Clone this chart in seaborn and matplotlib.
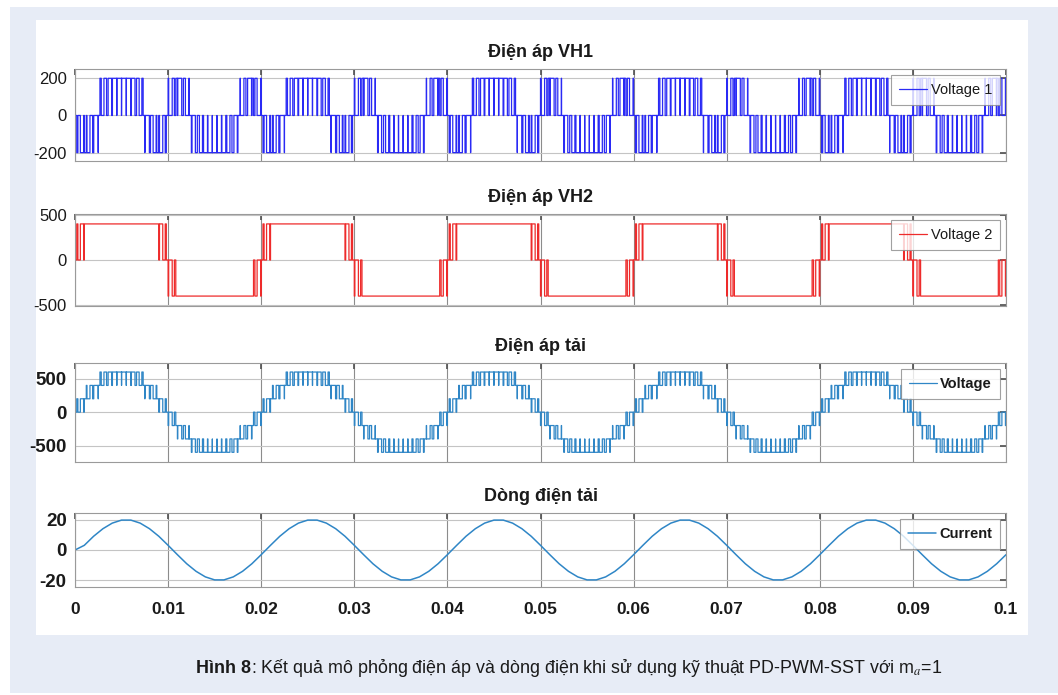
import matplotlib.pyplot as plt
import matplotlib.patches as patches
import pandas as pd
import seaborn as sns

# One 20 ms period of the PWM signals, 2 kHz carrier -> 40 slots of 0.5 ms
slot_width = 0.0005
period_starts = [0.0, 0.02, 0.04, 0.06, 0.08]
duty = [0.24, 0.70, 0.15, 0.57, 0.95, 0.28, 0.56, 0.77, 0.92, 0.99,
        0.99, 0.92, 0.77, 0.56, 0.28, 0.95, 0.57, 0.15, 0.70, 0.24,
        0.76, 0.30, 0.85, 0.43, 0.05, 0.72, 0.44, 0.23, 0.08, 0.01,
        0.01, 0.08, 0.23, 0.44, 0.72, 0.05, 0.43, 0.85, 0.30, 0.76]

vh1_off = [0, 0, -200, -200, -200, 0, 0, 0, 0, 0,
           0, 0, 0, 0, 0, -200, -200, -200, 0, 0,
           200, 200, 0, 0, 0, -200, -200, -200, -200, -200,
           -200, -200, -200, -200, -200, 0, 0, 0, 200, 200]
vh1_on = [-200, -200, 0, 0, 0, 200, 200, 200, 200, 200,
          200, 200, 200, 200, 200, 0, 0, 0, -200, -200,
          0, 0, 200, 200, 200, 0, 0, 0, 0, 0,
          0, 0, 0, 0, 0, 200, 200, 200, 0, 0]

vh2_off = [0, 0, 400, 400, 400, 400, 400, 400, 400, 400,
           400, 400, 400, 400, 400, 400, 400, 400, 0, 0,
           -400, -400, -400, -400, -400, -400, -400, -400, -400, -400,
           -400, -400, -400, -400, -400, -400, -400, -400, -400, -400]
vh2_on = [400, 400, 400, 400, 400, 400, 400, 400, 400, 400,
          400, 400, 400, 400, 400, 400, 400, 400, 400, 400,
          0, 0, -400, -400, -400, -400, -400, -400, -400, -400,
          -400, -400, -400, -400, -400, -400, -400, -400, 0, 0]

load_off = [0, 0, 200, 200, 200, 400, 400, 400, 400, 400,
            400, 400, 400, 400, 400, 200, 200, 200, 0, 0,
            -200, -200, -400, -400, -400, -600, -600, -600, -600, -600,
            -600, -600, -600, -600, -600, -400, -400, -400, -200, -200]
load_on = [200, 200, 400, 400, 400, 600, 600, 600, 600, 600,
           600, 600, 600, 600, 600, 400, 400, 400, 200, 200,
           0, 0, -200, -200, -200, -400, -400, -400, -400, -400,
           -400, -400, -400, -400, -400, -200, -200, -200, 0, 0]

# Load current sampled every 1 ms
current_t = [i / 1000 for i in range(101)]
current = [0.0,
           3.1, 9.1, 14.1, 17.8, 19.8, 19.8, 17.8, 14.1, 9.1, 3.1,
           -3.1, -9.1, -14.1, -17.8, -19.8, -19.8, -17.8, -14.1, -9.1, -3.1,
           3.1, 9.1, 14.1, 17.8, 19.8, 19.8, 17.8, 14.1, 9.1, 3.1,
           -3.1, -9.1, -14.1, -17.8, -19.8, -19.8, -17.8, -14.1, -9.1, -3.1,
           3.1, 9.1, 14.1, 17.8, 19.8, 19.8, 17.8, 14.1, 9.1, 3.1,
           -3.1, -9.1, -14.1, -17.8, -19.8, -19.8, -17.8, -14.1, -9.1, -3.1,
           3.1, 9.1, 14.1, 17.8, 19.8, 19.8, 17.8, 14.1, 9.1, 3.1,
           -3.1, -9.1, -14.1, -17.8, -19.8, -19.8, -17.8, -14.1, -9.1, -3.1,
           3.1, 9.1, 14.1, 17.8, 19.8, 19.8, 17.8, 14.1, 9.1, 3.1,
           -3.1, -9.1, -14.1, -17.8, -19.8, -19.8, -17.8, -14.1, -9.1, -3.1]

x_ticks = [0, 0.01, 0.02, 0.03, 0.04, 0.05, 0.06, 0.07, 0.08, 0.09, 0.1]
x_labels = ["0", "0.01", "0.02", "0.03", "0.04", "0.05", "0.06", "0.07", "0.08", "0.09", "0.1"]

titles = ["Điện áp VH1", "Điện áp VH2", "Điện áp tải", "Dòng điện tải"]
legend_names = ["Voltage 1", "Voltage 2", "Voltage", "Current"]
y_ticks = [[-200, 0, 200], [-500, 0, 500], [-500, 0, 500], [-20, 0, 20]]
caption_bold = "Hình 8"
caption_rest = ": Kết quả mô phỏng điện áp và dòng điện khi sử dụng kỹ thuật PD-PWM-SST với m$_{a}$=1"


def pwm_wave(off, on):
    t, v = [], []
    for p in period_starts:
        for k in range(len(duty)):
            t0 = p + k * slot_width
            t += [t0, t0 + slot_width * (1 - duty[k]) / 2, t0 + slot_width * (1 + duty[k]) / 2]
            v += [off[k], on[k], off[k]]
    t.append(0.1)
    v.append(v[-1])
    return pd.DataFrame({"t": t, "v": v})


sns.set_theme(style="white")
plt.rcParams["font.family"] = ["Liberation Sans", "DejaVu Sans"]
plt.rcParams["axes.unicode_minus"] = False

W, H = 1058, 695
fig = plt.figure(figsize=(W / 100, H / 100), dpi=100)
fig.patch.set_facecolor("white")
fig.add_artist(patches.Rectangle((10 / W, 1 - 693 / H), 1048 / W, 686 / H, transform=fig.transFigure,
                                 facecolor="#e7ecf6", edgecolor="none", zorder=-10))
fig.add_artist(patches.Rectangle((36 / W, 1 - 635 / H), 992 / W, 615 / H, transform=fig.transFigure,
                                 facecolor="white", edgecolor="none", zorder=-9))

boxes = [(69, 161), (214, 306), (363, 462), (513, 587)]
ylims = [(-245, 250), (-510, 510), (-745, 735), (-24.5, 24.5)]
colors = ["#2a2af5", "#ee2b2b", "#2f86c6", "#2f86c6"]
bold = [False, False, True, True]
ytick_size = [12, 12, 13.5, 13.5]

waves = [pwm_wave(vh1_off, vh1_on), pwm_wave(vh2_off, vh2_on), pwm_wave(load_off, load_on),
         pd.DataFrame({"t": current_t, "v": current})]

for i, (top, bottom) in enumerate(boxes):
    ax = fig.add_axes([75 / W, 1 - bottom / H, 931 / W, (bottom - top) / H])
    df = waves[i]
    if i < 3:
        sns.lineplot(data=df, x="t", y="v", drawstyle="steps-post", estimator=None, sort=False,
                     color=colors[i], lw=0.9, label=legend_names[i], ax=ax)
    else:
        sns.lineplot(data=df, x="t", y="v", estimator=None, sort=False,
                     color=colors[i], lw=1.1, label=legend_names[i], ax=ax)
    ax.set_xlim(0, 0.1)
    ax.set_ylim(*ylims[i])
    ax.set_xlabel("")
    ax.set_ylabel("")
    ax.set_xticks(x_ticks)
    ax.set_yticks(y_ticks[i])
    ax.set_yticklabels([str(v) for v in y_ticks[i]], fontsize=ytick_size[i],
                       fontweight="bold" if bold[i] else "normal")
    if i == 3:
        ax.set_xticklabels(x_labels, fontsize=12.5, fontweight="bold")
    else:
        ax.set_xticklabels([])
    ax.tick_params(axis="both", direction="in", length=4, color="#555555", right=True, top=True,
                   labelcolor="#1a1a1a")
    ax.tick_params(axis="y", pad=6)
    ax.tick_params(axis="x", pad=11)
    ax.grid(True, axis="x", color="#8c8c8c", lw=0.8)
    ax.grid(True, axis="y", color="#c4c4c4", lw=0.8)
    for s in ax.spines.values():
        s.set_color("#9a9a9a")
        s.set_linewidth(0.8)
    ax.set_title(titles[i], fontsize=13, fontweight="bold", pad=8.5, color="#1a1a1a")
    leg = ax.legend(loc="upper right", frameon=True, fancybox=False,
                    borderaxespad=0.4, borderpad=0.55, handlelength=1.9, handletextpad=0.25,
                    prop={"weight": "bold" if bold[i] else "normal", "size": 10.5})
    leg.get_frame().set_edgecolor("#8a8a8a")
    leg.get_frame().set_linewidth(0.8)
    for txt in leg.get_texts():
        txt.set_color("#1a1a1a")

t1 = fig.text(196 / W, 1 - 673 / H, caption_bold, fontsize=12.9, fontweight="bold",
              va="baseline", ha="left", color="#1a1a1a")
renderer = fig.canvas.get_renderer()
bb = t1.get_window_extent(renderer)
fig.text(bb.x1 / fig.bbox.width, 1 - 673 / H, caption_rest, fontsize=12.9, va="baseline", ha="left",
         color="#1a1a1a", math_fontfamily="stix")

fig.savefig("out.png", dpi=100)
